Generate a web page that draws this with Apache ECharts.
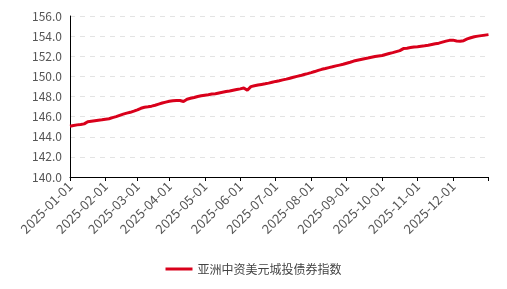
<!DOCTYPE html>
<html>
<head>
<meta charset="utf-8">
<script src="https://cdn.jsdelivr.net/npm/echarts@6/dist/echarts.min.js"></script>
<style>html,body{margin:0;padding:0;background:#fff}#c{width:507px;height:289px}</style>
</head>
<body>
<div id="c"></div>
<script>
var seriesName = '亚洲中资美元城投债券指数';
var dates = [
'2025-01-01','2025-01-04','2025-01-07','2025-01-10','2025-01-13','2025-01-16','2025-01-19','2025-01-22','2025-01-25','2025-01-28',
'2025-02-01','2025-02-04','2025-02-07','2025-02-10','2025-02-13','2025-02-16','2025-02-19','2025-02-22','2025-02-25',
'2025-03-01','2025-03-04','2025-03-07','2025-03-10','2025-03-13','2025-03-16','2025-03-19','2025-03-22','2025-03-25',
'2025-04-01','2025-04-04','2025-04-07','2025-04-10','2025-04-13','2025-04-16','2025-04-19','2025-04-22','2025-04-25','2025-04-28',
'2025-05-01','2025-05-04','2025-05-07','2025-05-10','2025-05-13','2025-05-16','2025-05-19','2025-05-22','2025-05-25','2025-05-28',
'2025-06-01','2025-06-04','2025-06-07','2025-06-10','2025-06-13','2025-06-16','2025-06-19','2025-06-22','2025-06-25','2025-06-28',
'2025-07-01','2025-07-04','2025-07-07','2025-07-10','2025-07-13','2025-07-16','2025-07-19','2025-07-22','2025-07-25','2025-07-28',
'2025-08-01','2025-08-04','2025-08-07','2025-08-10','2025-08-13','2025-08-16','2025-08-19','2025-08-22','2025-08-25','2025-08-28',
'2025-09-01','2025-09-04','2025-09-07','2025-09-10','2025-09-13','2025-09-16','2025-09-19','2025-09-22','2025-09-25','2025-09-28',
'2025-10-01','2025-10-04','2025-10-07','2025-10-10','2025-10-13','2025-10-16','2025-10-19','2025-10-22','2025-10-25','2025-10-28',
'2025-11-01','2025-11-04','2025-11-07','2025-11-10','2025-11-13','2025-11-16','2025-11-19','2025-11-22','2025-11-25','2025-11-28',
'2025-12-01','2025-12-04','2025-12-07','2025-12-10','2025-12-13','2025-12-16','2025-12-19','2025-12-22','2025-12-25','2025-12-28',
'2025-12-31'
];
var values = [
145.05,145.12,145.18,145.22,145.28,145.50,145.55,145.60,145.65,145.68,
145.74,145.79,145.90,146.00,146.13,146.25,146.35,146.43,146.55,
146.68,146.83,146.93,146.98,147.04,147.13,147.24,147.35,147.44,
147.52,147.57,147.60,147.60,147.50,147.72,147.82,147.90,148.00,148.07,
148.13,148.18,148.24,148.28,148.35,148.42,148.49,148.55,148.62,148.69,
148.76,148.85,148.62,148.98,149.07,149.14,149.20,149.26,149.33,149.42,
149.50,149.57,149.65,149.73,149.82,149.91,150.00,150.08,150.18,150.27,
150.37,150.48,150.60,150.70,150.78,150.87,150.95,151.04,151.12,151.20,
151.30,151.40,151.52,151.60,151.68,151.75,151.82,151.90,151.97,152.03,
152.08,152.18,152.28,152.36,152.46,152.56,152.76,152.80,152.86,152.92,
152.95,153.00,153.04,153.10,153.17,153.24,153.30,153.40,153.50,153.58,
153.60,153.52,153.50,153.55,153.72,153.84,153.94,154.00,154.05,154.10,
154.15
];
var yMin = 140, yMax = 156, yStep = 2;

var font = "'Microsoft YaHei','Noto Sans CJK SC',sans-serif";
function isMonthStart(idx, val) { return /-01$/.test(val); }
var chart = echarts.init(document.getElementById('c'), null, {renderer: 'canvas'});
chart.setOption({
  animation: false,
  grid: {left: 70, right: 18.5, top: 16, bottom: 112, containLabel: false},
  legend: {
    bottom: 9, left: 'center',
    icon: 'rect', itemWidth: 27, itemHeight: 3, itemGap: 10,
    textStyle: {color: '#444', fontSize: 12, fontFamily: font},
    data: [seriesName]
  },
  xAxis: {
    type: 'category', boundaryGap: false, data: dates,
    axisLine: {lineStyle: {color: '#000', width: 1}},
    axisTick: {show: true, length: 4, lineStyle: {color: '#000'},
      interval: function (idx, val) { return isMonthStart(idx, val) || idx === dates.length - 1; }},
    axisLabel: {interval: isMonthStart, rotate: 45, color: '#555', fontSize: 13, margin: 7, fontFamily: font}
  },
  yAxis: {
    type: 'value', min: yMin, max: yMax, interval: yStep,
    axisLine: {show: true, lineStyle: {color: '#000', width: 1}},
    axisTick: {show: false},
    axisLabel: {color: '#555', fontSize: 12, margin: 8, fontFamily: font,
      formatter: function (v) { return v.toFixed(1); }},
    splitLine: {show: true, lineStyle: {color: '#e3e3e3', type: [5, 5]}}
  },
  series: [{
    name: seriesName, type: 'line', data: values,
    symbol: 'none', showSymbol: false, smooth: false,
    lineStyle: {color: '#d9001b', width: 3},
    itemStyle: {color: '#d9001b'}
  }]
});
</script>
</body>
</html>
